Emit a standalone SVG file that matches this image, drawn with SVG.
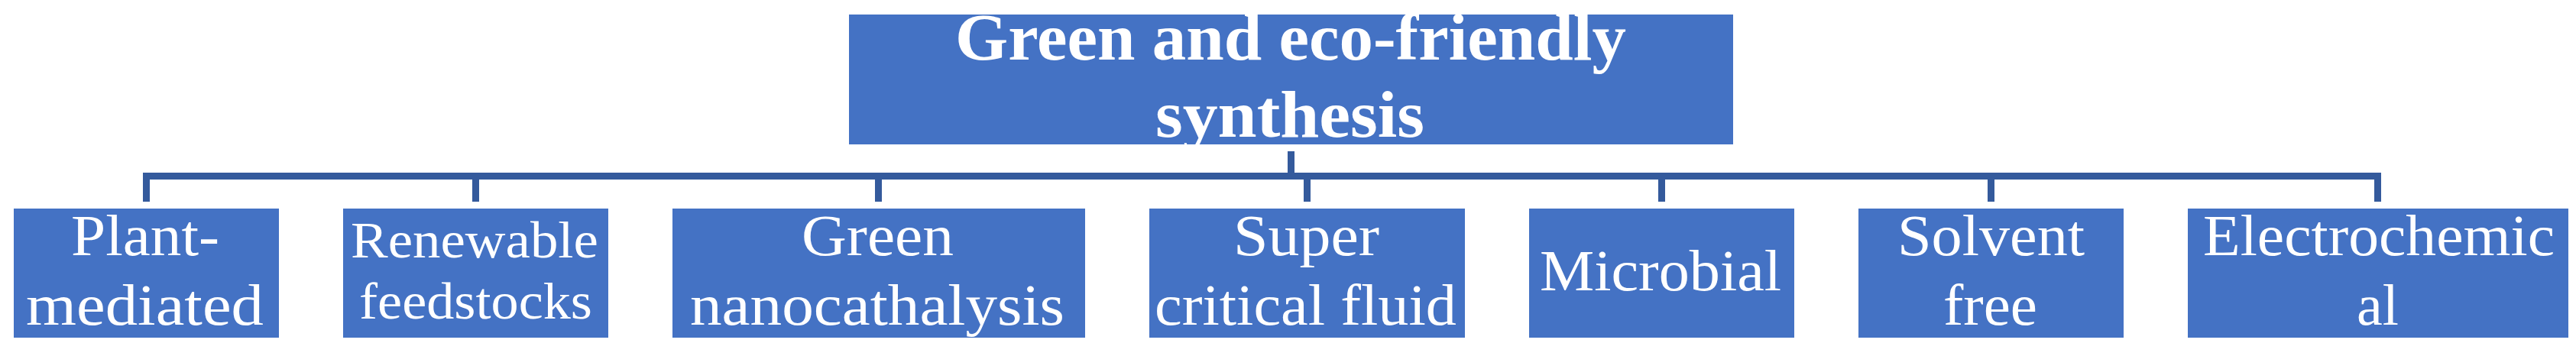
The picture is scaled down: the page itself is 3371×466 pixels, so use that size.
<svg xmlns="http://www.w3.org/2000/svg" width="3371" height="466" viewBox="0 0 3371 466">
<style>
.box{fill:#4472C4;}
.t{fill:#FFFFFF;font-family:"Liberation Serif","DejaVu Serif",serif;font-size:77px;}
.ts{font-size:68px;}
.tt{font-size:86px;font-weight:bold;}
.c{fill:none;stroke:#345A9C;stroke-width:9;stroke-linejoin:miter;stroke-linecap:butt;}
</style>
<rect width="3371" height="466" fill="#FFFFFF"/>
<g id="connectors">
<path class="c" d="M1689.5 198 V230.5"/>
<path class="c" d="M191.5 264 V230.5 H3111.5 V264"/>
<path class="c" d="M622.5 230.5 V264"/>
<path class="c" d="M1149.5 230.5 V264"/>
<path class="c" d="M1710.5 230.5 V264"/>
<path class="c" d="M2174.5 230.5 V264"/>
<path class="c" d="M2605.5 230.5 V264"/>
</g>
<g id="root">
<rect class="box" x="1111" y="19" width="1157" height="170"/>
<text class="t tt" x="1250" y="78" textLength="878" lengthAdjust="spacingAndGlyphs">Green and eco-friendly</text>
<text class="t tt" x="1512" y="179" textLength="352" lengthAdjust="spacingAndGlyphs">synthesis</text>
</g>
<g id="plant">
<rect class="box" x="18" y="273" width="347" height="169"/>
<text class="t" x="93" y="334" textLength="194" lengthAdjust="spacingAndGlyphs">Plant-</text>
<text class="t" x="34" y="425" textLength="311" lengthAdjust="spacingAndGlyphs">mediated</text>
</g>
<g id="renewable">
<rect class="box" x="449" y="273" width="347" height="169"/>
<text class="t ts" x="459" y="337" textLength="324" lengthAdjust="spacingAndGlyphs">Renewable</text>
<text class="t ts" x="470" y="417" textLength="305" lengthAdjust="spacingAndGlyphs">feedstocks</text>
</g>
<g id="green-nano">
<rect class="box" x="880" y="273" width="540" height="169"/>
<text class="t" x="1049" y="334" textLength="199" lengthAdjust="spacingAndGlyphs">Green</text>
<text class="t" x="903" y="425" textLength="490" lengthAdjust="spacingAndGlyphs">nanocathalysis</text>
</g>
<g id="supercritical">
<rect class="box" x="1504" y="273" width="413" height="169"/>
<text class="t" x="1614" y="334" textLength="191" lengthAdjust="spacingAndGlyphs">Super</text>
<text class="t" x="1511" y="425" textLength="395" lengthAdjust="spacingAndGlyphs">critical fluid</text>
</g>
<g id="microbial">
<rect class="box" x="2001" y="273" width="347" height="169"/>
<text class="t" x="2015" y="380" textLength="316" lengthAdjust="spacingAndGlyphs">Microbial</text>
</g>
<g id="solvent">
<rect class="box" x="2432" y="273" width="347" height="169"/>
<text class="t" x="2483" y="334" textLength="245" lengthAdjust="spacingAndGlyphs">Solvent</text>
<text class="t" x="2543" y="425" textLength="123" lengthAdjust="spacingAndGlyphs">free</text>
</g>
<g id="electrochemical">
<rect class="box" x="2863" y="273" width="498" height="169"/>
<text class="t" x="2883" y="334" textLength="460" lengthAdjust="spacingAndGlyphs">Electrochemic</text>
<text class="t" x="3084" y="425" textLength="55" lengthAdjust="spacingAndGlyphs">al</text>
</g>
</svg>
